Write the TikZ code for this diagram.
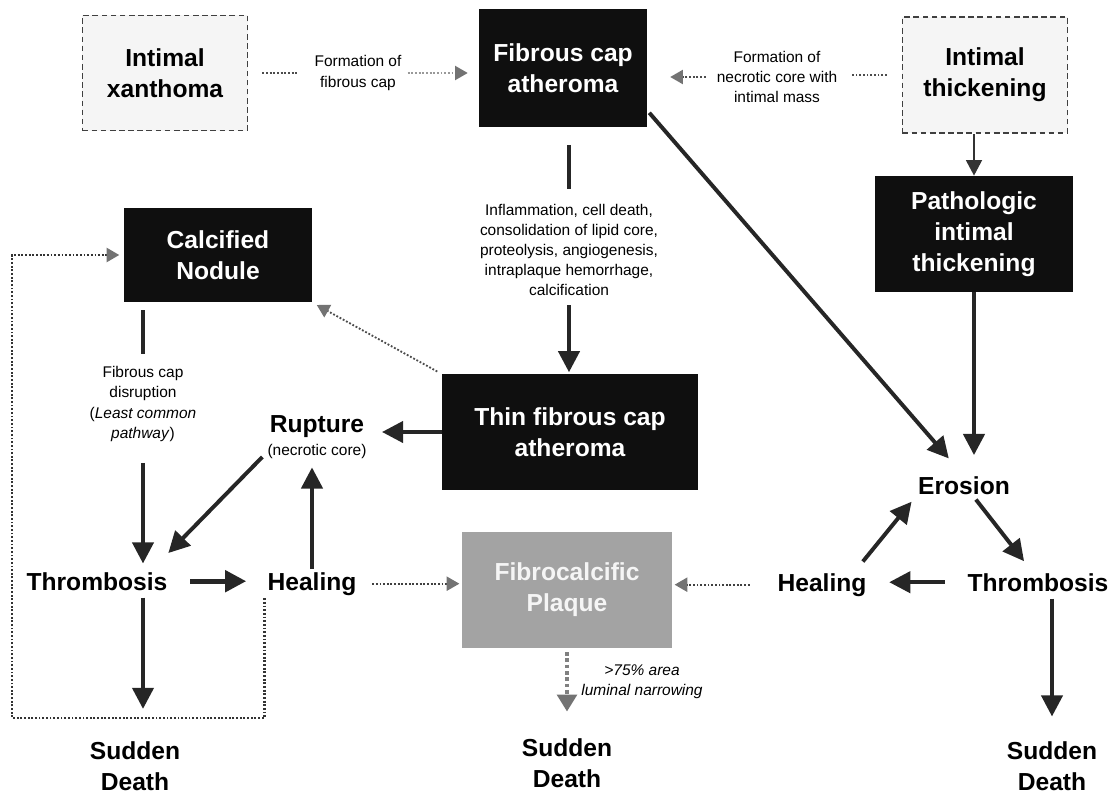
\documentclass[tikz,border=0pt]{standalone}
\usepackage{fontspec}
\setmainfont{Liberation Sans}
\usetikzlibrary{arrows.meta,calc,positioning}

\begin{document}
\begin{tikzpicture}[x=0.025cm, y=-0.025cm,
	big/.style = {font=\fontsize{17.5}{22}\selectfont\bfseries, align=center, inner sep=2pt},
	small/.style = {font=\fontsize{11}{14.3}\selectfont, align=center, inner sep=0pt},
	dashbox/.style = {big, draw=black!75, fill=black!4, line width=1.2pt, dash pattern=on 4pt off 2.5pt},
	blackbox/.style = {big, fill=black!94, text=white},
	graybox/.style = {big, fill=black!36, text=black!4},
	arr/.style = {draw=black!85, line width=2.8pt, -{Triangle[length=15pt,width=15pt]}},
	thinarr/.style = {draw=black!80, line width=2pt, -{Triangle[length=11pt,width=11pt]}},
	dotline/.style = {draw=black!70, line width=1.3pt, dash pattern=on 1.3pt off 1.3pt},
	dotarr/.style = {dotline, -{Triangle[length=9pt,width=10pt,color=black!55]}},
	paledot/.style = {dotarr, draw=black!40}]

	\useasboundingbox (0,0) rectangle (1113,796);

	% boxes
	\node[dashbox, minimum width=4.125cm, minimum height=2.875cm] (xan) at (165,73) {Intimal\\xanthoma};
	\node[blackbox, minimum width=4.2cm, minimum height=2.925cm] (fca) at (563,68) {Fibrous cap\\atheroma};
	\node[dashbox, minimum width=4.125cm, minimum height=2.9cm] (ith) at (985,75) {Intimal\\thickening};
	\node[blackbox, minimum width=4.95cm, minimum height=2.9cm] (pit) at (974,234) {Pathologic\\intimal\\thickening};
	\node[blackbox, minimum width=4.675cm, minimum height=2.35cm] (cn) at (218,255) {Calcified\\Nodule};
	\node[blackbox, minimum width=6.375cm, minimum height=2.875cm] (tfca) at (570,432) {Thin fibrous cap\\atheroma};
	\node[graybox, minimum width=5.225cm, minimum height=2.875cm] (fcp) at (567,590) {Fibrocalcific\\Plaque};

	% labels
	\node[small] (lbl1) at (358,73) {Formation of\\fibrous cap};
	\node[small] (lbl2) at (777,77) {Formation of\\necrotic core with\\intimal mass};
	\node[small] (lbl3) at (569,250) {Inflammation, cell death,\\consolidation of lipid core,\\proteolysis, angiogenesis,\\intraplaque hemorrhage,\\calcification};
	\node[small] (lbl4) at (143,404) {Fibrous cap\\disruption\\(\textit{Least common}\\\textit{pathway})};
	\node[small, font=\fontsize{11}{14.3}\selectfont\itshape] (lbl5) at (642,682) {>75\% area\\luminal narrowing};

	% events
	\node[big, anchor=base] (rup) at (317,432) {Rupture};
	\node[small, below=3pt of rup] (rupc) {(necrotic core)};
	\node[big, anchor=base] (thl) at (97,590) {Thrombosis};
	\node[big, anchor=base] (hl) at (312,590) {Healing};
	\node[big, anchor=base] (ero) at (964,494) {Erosion};
	\node[big, anchor=base] (hr) at (822,591) {Healing};
	\node[big, anchor=base] (thr) at (1038,591) {Thrombosis};
	\node[big] (sdl) at (135,766) {Sudden\\Death};
	\node[big] (sdm) at (567,763) {Sudden\\Death};
	\node[big] (sdr) at (1052,766) {Sudden\\Death};

	\coordinate (lp) at (12,718);

	% top row
	\draw[dotline, shorten <=10pt, shorten >=12pt] (xan.east) -- (lbl1.west);
	\draw[paledot, shorten <=4.3pt, shorten >=7.8pt] (lbl1.east) -- (lbl1.east -| fca.west);
	\draw[dotline, shorten <=10.6pt, shorten >=10.6pt] (ith.west) -- (ith.west -| lbl2.east);
	\draw[dotarr, shorten <=7.8pt, shorten >=16.3pt] (lbl2.west) -- (lbl2.west -| fca.east);
	\draw[thinarr] (pit.north |- ith.south) -- (pit.north);

	% left side
	\draw[arr, -, shorten <=12.8pt, shorten >=10.6pt] (fca.south -| lbl3.north) -- (lbl3.north);
	\draw[arr, shorten <=6.4pt, shorten >=1.4pt] (lbl3.south) -- (lbl3.south |- tfca.north);
	\draw[dotarr, shorten <=4pt, shorten >=4pt] (tfca.north west) -- (cn.south east);
	\draw[arr, shorten >=10.5pt] (tfca.west) -- (tfca.west -| rup.east);
	\draw[arr, -, shorten <=5.7pt, shorten >=8.5pt] (cn.south -| lbl4.north) -- (lbl4.north);
	\draw[arr, shorten <=15pt, shorten >=4pt] (lbl4.south) -- (lbl4.south |- thl.north);
	\draw[arr, shorten <=5pt, shorten >=10pt] (rupc.west) -- ($(thl.north east)+(-12,-6)$);
	\draw[arr, shorten >=5.7pt] (hl.north) -- (hl.north |- rupc.south);
	\draw[arr, line width=3.4pt, shorten <=14pt, shorten >=13pt] (thl.east) -- (thl.east -| hl.west);
	\draw[arr, shorten <=3pt, shorten >=21pt] (thl.south -| lbl4.south) -- (sdl.north -| lbl4.south);
	\draw[dotarr, draw=black!75, shorten <=9pt, shorten >=2pt] (hl.east) -- (hl.east -| fcp.west);
	\draw[dotline, draw=black!80, line width=1.6pt, -{Triangle[length=9pt,width=10pt,color=black!55]}, shorten >=3.5pt]
		(hl.south west) -- (hl.south west |- lp) -- (lp) -- (lp |- cn.west) -- (cn.west);
	\draw[draw=black!50, line width=2.6pt, dash pattern=on 2.5pt off 2pt, -{Triangle[length=12pt,width=14pt,color=black!55]},
		shorten <=3pt, shorten >=17pt] (fcp.south) -- (sdm.north);

	% right side
	\draw[arr, shorten >=12.8pt] (pit.south) -- (pit.south |- ero.north);
	\draw[arr, shorten >=10pt] ($(fca.south east)+(2,-14)$) -- ($(ero.north)+(-6,-4)$);
	\draw[arr, shorten <=2pt, shorten >=8pt] (ero.-50) -- (thr.120);
	\draw[arr, shorten <=6pt, shorten >=4pt] ($(hr.north east)+(-12,-2)$) -- (ero.south west);
	\draw[arr, shorten <=14pt, shorten >=14pt] (thr.west) -- (thr.west -| hr.east);
	\draw[arr, shorten <=3pt, shorten >=15.6pt] (thr.south -| sdr.north) -- (sdr.north);
	\draw[dotarr, draw=black!75, shorten <=17.7pt, shorten >=2pt] (hr.west) -- (hr.west -| fcp.east);
\end{tikzpicture}
\end{document}
